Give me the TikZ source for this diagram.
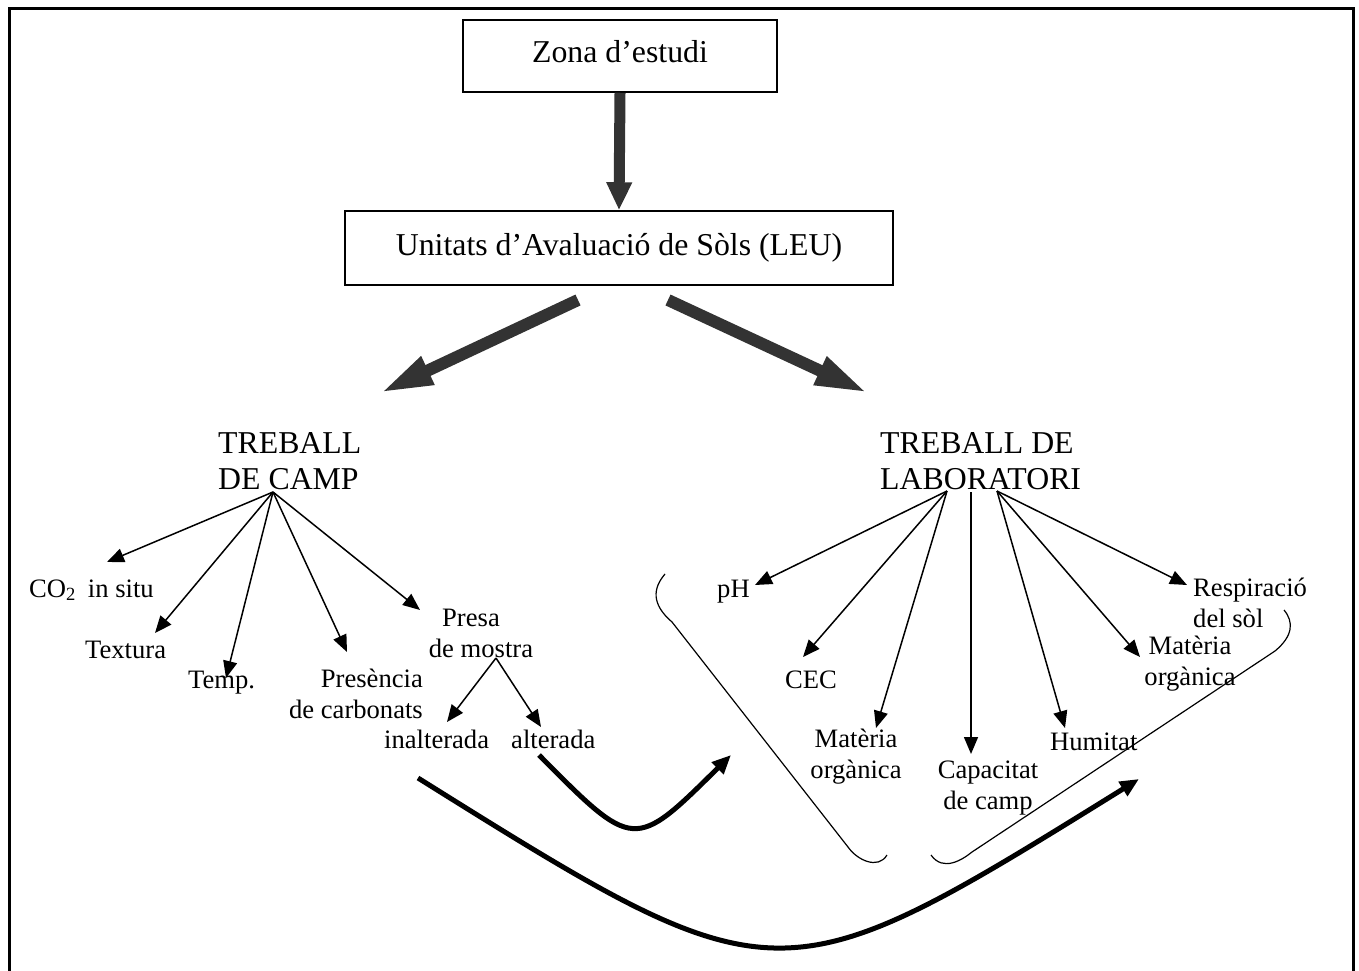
\documentclass[tikz,border=0pt]{standalone}
\usepackage{fontspec}
\setmainfont{Liberation Serif}
\usetikzlibrary{arrows.meta}
\definecolor{dg}{HTML}{333333}
\begin{document}
\begin{tikzpicture}[x=1pt,y=1pt,
  big/.style={font=\fontsize{31.8}{36}\selectfont, inner sep=0pt},
  small/.style={font=\fontsize{26.6}{31}\selectfont, inner sep=0pt},
  box/.style={draw, line width=1.5pt, inner sep=0pt},
  fat/.style={draw=dg, line width=11pt, -{Triangle[length=28pt,width=24pt]}},
  fatd/.style={draw=dg, line width=12pt, -{Triangle[length=53pt,width=28pt]}},
  thin/.style={draw, line width=1.5pt, -{Triangle[length=17pt,width=14pt]}},
  bold/.style={draw, line width=5pt, -{Triangle[length=19pt,width=16pt]}},
  brk/.style={draw, line width=1.2pt}
]
\useasboundingbox (0,0) rectangle (1359,-971);
\draw[line width=3pt] (9,-971) -- (9,-9) -- (1353,-9) -- (1353,-971);

% boxes
\node[box, big, minimum width=314pt, minimum height=72pt, text depth=10pt] (zona) at (620,-56) {Zona d’estudi};
\node[box, big, minimum width=548pt, minimum height=74pt] (leu) at (619,-248) {Unitats d’Avaluació de Sòls (LEU)};

% headings
\node[big, align=left, anchor=west] (camp) at (218,-461) {TREBALL\\DE CAMP};
\node[big, align=left, anchor=west] (lab) at (880,-461) {TREBALL DE\\LABORATORI};

% thick arrows
\draw[fat] (zona.south) -- (leu.north);
\coordinate (dlS) at (578,-300);
\coordinate (dlE) at (380,-393);
\coordinate (drS) at (668,-300);
\coordinate (drE) at (868,-393);
\draw[fatd] (dlS) -- (dlE);
\draw[fatd] (drS) -- (drE);

% left items
\node[small, anchor=base west] (co2) at (29,-597) {CO\textsubscript{2}\hspace{0.45em}in situ};
\node[small, anchor=base west] (textura) at (85,-658) {Textura};
\node[small, anchor=base west] (temp) at (188,-688) {Temp.};
\node[small, align=right, anchor=east] (presencia) at (423,-694) {Presència\\de carbonats};
\node[small, align=center] (presa) at (481,-633) {Presa\hspace*{20pt}\\de mostra};
\node[small, anchor=base west] (inalt) at (384,-748) {inalterada};
\node[small, anchor=base west] (alter) at (511,-748) {alterada};

% right items
\node[small, anchor=base west] (ph) at (717,-597) {pH};
\node[small, anchor=base west] (cec) at (785,-688) {CEC};
\node[small, align=center] (matL) at (856,-757) {Matèria\\orgànica};
\node[small, align=center] (capac) at (988,-788) {Capacitat\\de camp};
\node[small, anchor=base west] (humitat) at (1050,-750) {Humitat};
\node[small, align=center] (matR) at (1190,-664) {Matèria\\orgànica};
\node[small, align=left, anchor=west] (resp) at (1193,-603) {Respiració\\del sòl};

% left fan
\coordinate (campO) at (273,-492);
\coordinate (tco2) at (107,-562);
\coordinate (ttex) at (155,-633);
\coordinate (ttemp) at (226,-678);
\coordinate (tpres) at (347,-652);
\coordinate (tpresa) at (420,-610);
\draw[thin] (campO) -- (tco2);
\draw[thin] (campO) -- (ttex);
\draw[thin] (campO) -- (ttemp);
\draw[thin] (campO) -- (tpres);
\draw[thin] (campO) -- (tpresa);
\coordinate (presaO) at (496,-658);
\coordinate (tinalt) at (447,-722);
\coordinate (talter) at (541,-727);
\draw[thin] (presaO) -- (tinalt);
\draw[thin] (presaO) -- (talter);

% right fan
\coordinate (labA) at (947,-491);
\coordinate (labB) at (971,-492);
\coordinate (labC) at (997,-491);
\coordinate (tph) at (755,-585);
\coordinate (tcec) at (803,-657);
\coordinate (tmatL) at (876,-728);
\coordinate (tcap) at (971,-754);
\coordinate (thum) at (1065,-728);
\coordinate (tmatR) at (1140,-657);
\coordinate (tresp) at (1187,-585);
\draw[thin] (labA) -- (tph);
\draw[thin] (labA) -- (tcec);
\draw[thin] (labA) -- (tmatL);
\draw[thin] (labB) -- (tcap);
\draw[thin] (labC) -- (thum);
\draw[thin] (labC) -- (tmatR);
\draw[thin] (labC) -- (tresp);

% brackets
\draw[brk] (665,-574) .. controls (653,-588) and (651,-604) .. (672,-622) -- (848,-847)
  .. controls (857,-860) and (878,-870) .. (887,-855);
\draw[brk] (1284,-610) .. controls (1294,-622) and (1293,-636) .. (1275,-651) -- (972,-852)
  .. controls (962,-860) and (943,-872) .. (931,-855);

% curved arrows
\coordinate (sS) at (539,-755);
\coordinate (sE) at (731,-755);
\draw[bold] (sS) .. controls (634,-851) .. (sE);
\coordinate (bS) at (418,-778);
\coordinate (bE) at (1139,-779);
\draw[bold] (bS) .. controls (778,-1003) .. (bE);
\end{tikzpicture}
\end{document}
